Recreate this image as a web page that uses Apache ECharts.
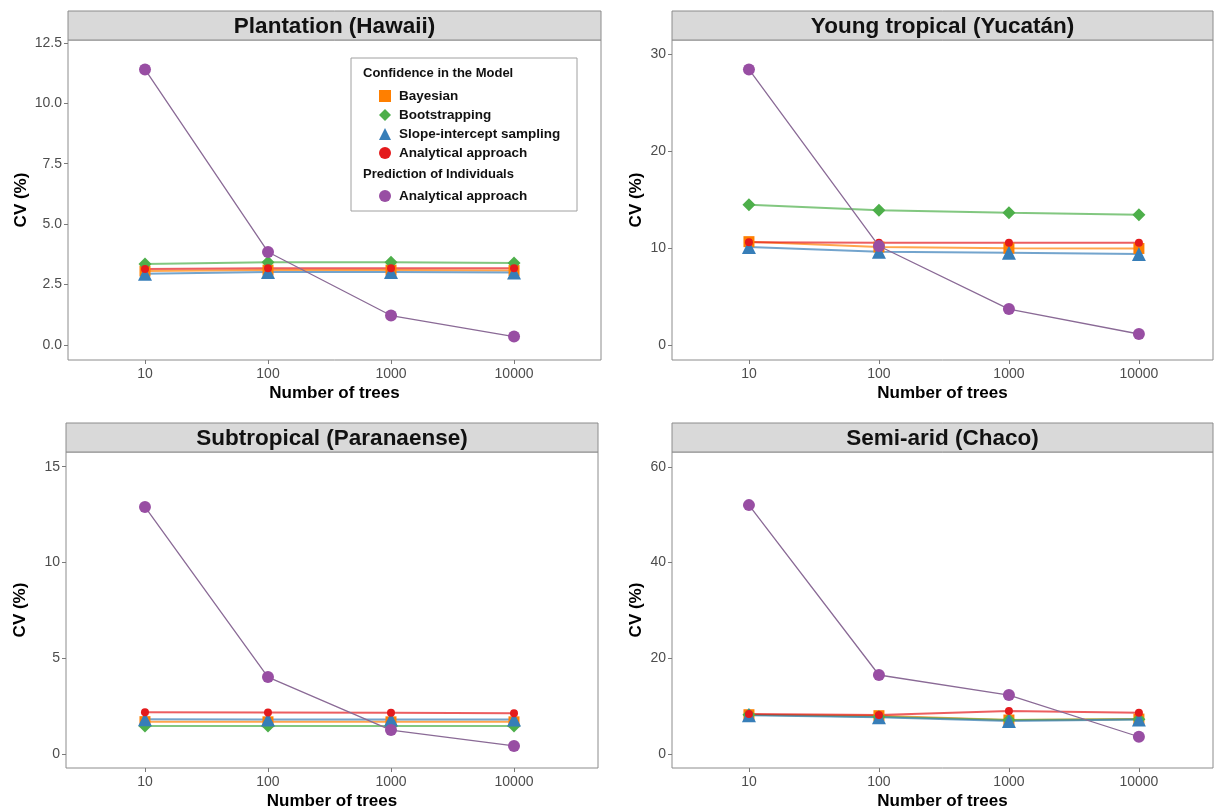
<!DOCTYPE html>
<html>
<head>
<meta charset="utf-8">
<script src="https://cdn.jsdelivr.net/npm/echarts@6/dist/echarts.min.js"></script>
<style>
  html, body { margin: 0; padding: 0; background: #fff; }
  #chart { width: 1215px; height: 812px; }
</style>
</head>
<body>
<div id="chart"></div>
<script>
// data
const trees = [10, 100, 1000, 10000]
const panelTitles = ['Plantation (Hawaii)', 'Young tropical (Yucatán)', 'Subtropical (Paranaense)', 'Semi-arid (Chaco)']

const bayesian = [
  [3.06, 3.10, 3.10, 3.08],
  [10.65, 10.1, 9.97, 9.95],
  [1.69, 1.68, 1.68, 1.68],
  [8.2, 8.0, 7.1, 7.3]
]
const bootstrapping = [
  [3.35, 3.42, 3.42, 3.39],
  [14.46, 13.9, 13.64, 13.43],
  [1.46, 1.46, 1.46, 1.46],
  [8.2, 7.8, 7.1, 7.25]
]
const slopeIntercept = [
  [2.95, 3.02, 3.02, 3.0],
  [10.1, 9.6, 9.5, 9.38],
  [1.81, 1.8, 1.8, 1.8],
  [8.1, 7.7, 6.9, 7.2]
]
const analyticalModel = [
  [3.14, 3.18, 3.18, 3.18],
  [10.6, 10.55, 10.55, 10.55],
  [2.18, 2.17, 2.15, 2.13],
  [8.36, 8.15, 9.0, 8.6]
]
const analyticalIndividuals = [
  [11.4, 3.85, 1.22, 0.35],
  [28.4, 10.2, 3.7, 1.13],
  [12.9, 4.02, 1.25, 0.42],
  [52.0, 16.5, 12.3, 3.6]
]

const yTicks = [
  [0, 2.5, 5, 7.5, 10, 12.5],
  [0, 10, 20, 30],
  [0, 5, 10, 15],
  [0, 20, 40, 60]
]
const yRange = [[-0.62, 12.62], [-1.55, 31.44], [-0.73, 15.77], [-2.93, 63.1]]
const xRange = [[0.374, 4.707], [0.408, 4.57], [0.358, 4.683], [0.408, 4.57]]

// layout of the four panels (plot area, px)
const panels = [
  { left: 68, top: 40, width: 533, height: 320, nameGap: 38 },
  { left: 672, top: 40, width: 541, height: 320, nameGap: 27 },
  { left: 66, top: 452, width: 532, height: 316, nameGap: 37 },
  { left: 672, top: 452, width: 541, height: 316, nameGap: 27 }
]
const stripH = 29

const FONT = '"Liberation Sans", Arial, sans-serif'
const colors = {
  bayes: '#ff7f00',
  boot: '#4daf4a',
  slope: '#377eb8',
  anal: '#e41a1c',
  indiv: '#984ea3'
}
const labelMap = {
  'Bayesian': 'Bayesian',
  'Bootstrapping': 'Bootstrapping',
  'Slope-intercept sampling': 'Slope-intercept sampling',
  'Analytical approach': 'Analytical approach',
  'Individuals analytical': 'Analytical approach'
}

const toPts = vals => trees.map((t, i) => [Math.log10(t), vals[i]])

const grid = panels.map(p => ({
  left: p.left, top: p.top, width: p.width, height: p.height,
  show: true, borderColor: '#8c8c8c', borderWidth: 1, backgroundColor: '#fff'
}))

const xAxis = panels.map((p, i) => ({
  type: 'value',
  gridIndex: i,
  min: xRange[i][0],
  max: xRange[i][1],
  name: 'Number of trees',
  nameLocation: 'middle',
  nameGap: 25,
  nameTextStyle: { fontFamily: FONT, fontWeight: 'bold', fontSize: 17, color: '#000' },
  axisLine: { show: false, onZero: false },
  splitLine: { show: false },
  axisTick: { show: true, length: 4, lineStyle: { color: '#7a7a7a' }, customValues: [1, 2, 3, 4] },
  axisLabel: {
    customValues: [1, 2, 3, 4],
    margin: 7,
    fontFamily: FONT, fontSize: 14, color: '#4d4d4d',
    formatter: v => String(Math.round(Math.pow(10, v)))
  }
}))

const yAxis = panels.map((p, i) => ({
  type: 'value',
  gridIndex: i,
  min: yRange[i][0],
  max: yRange[i][1],
  name: 'CV (%)',
  nameLocation: 'middle',
  nameGap: p.nameGap,
  nameTextStyle: { fontFamily: FONT, fontWeight: 'bold', fontSize: 17, color: '#000' },
  axisLine: { show: false, onZero: false },
  splitLine: { show: false },
  axisTick: { show: true, length: 4, lineStyle: { color: '#7a7a7a' }, customValues: yTicks[i] },
  axisLabel: {
    customValues: yTicks[i],
    margin: 6,
    fontFamily: FONT, fontSize: 14, color: '#4d4d4d',
    formatter: v => i === 0 ? v.toFixed(1) : String(v)
  }
}))

const series = []
panels.forEach((p, i) => {
  const base = { type: 'line', xAxisIndex: i, yAxisIndex: i, animation: false, z: 2 }
  series.push({ ...base, name: 'Bayesian', data: toPts(bayesian[i]), symbol: 'rect', symbolSize: 11,
    itemStyle: { color: colors.bayes }, lineStyle: { color: colors.bayes, width: 2, opacity: 0.7 } })
  series.push({ ...base, name: 'Bootstrapping', data: toPts(bootstrapping[i]), symbol: 'diamond', symbolSize: 13,
    itemStyle: { color: colors.boot }, lineStyle: { color: colors.boot, width: 2, opacity: 0.7 } })
  series.push({ ...base, name: 'Slope-intercept sampling', data: toPts(slopeIntercept[i]), symbol: 'triangle', symbolSize: 14,
    itemStyle: { color: colors.slope }, lineStyle: { color: colors.slope, width: 2, opacity: 0.7 } })
  series.push({ ...base, name: 'Analytical approach', data: toPts(analyticalModel[i]), symbol: 'circle', symbolSize: 8,
    itemStyle: { color: colors.anal }, lineStyle: { color: colors.anal, width: 2, opacity: 0.7 } })
  series.push({ ...base, name: 'Individuals analytical', data: toPts(analyticalIndividuals[i]), symbol: 'circle', symbolSize: 12,
    itemStyle: { color: colors.indiv }, lineStyle: { color: '#8a6a96', width: 1.3 }, z: 3 })
})

// facet strips
const graphic = []
panels.forEach((p, i) => {
  graphic.push({
    type: 'rect', silent: true,
    shape: { x: p.left, y: p.top - stripH, width: p.width, height: stripH },
    style: { fill: '#d9d9d9', stroke: '#8c8c8c', lineWidth: 1 }
  })
  graphic.push({
    type: 'text', silent: true,
    x: p.left + p.width / 2, y: p.top - stripH / 2 + 1,
    style: { text: panelTitles[i], fontFamily: FONT, fontWeight: 'bold', fontSize: 22.5, fill: '#111', align: 'center', verticalAlign: 'middle' }
  })
})
// legend box and headings
graphic.push({
  type: 'rect', silent: true, z: 10,
  shape: { x: 351, y: 58, width: 226, height: 153 },
  style: { fill: '#fff', stroke: '#a0a0a0', lineWidth: 1 }
})
graphic.push({
  type: 'text', silent: true, z: 11, x: 363, y: 73,
  style: { text: 'Confidence in the Model', fontFamily: FONT, fontWeight: 'bold', fontSize: 13, fill: '#111', verticalAlign: 'middle' }
})
graphic.push({
  type: 'text', silent: true, z: 11, x: 363, y: 174,
  style: { text: 'Prediction of Individuals', fontFamily: FONT, fontWeight: 'bold', fontSize: 13, fill: '#111', verticalAlign: 'middle' }
})

const legendText = { fontFamily: FONT, fontWeight: 'bold', fontSize: 13.5, color: '#111', padding: [0, 0, 0, 3] }
const option = {
  backgroundColor: '#fff',
  animation: false,
  grid, xAxis, yAxis, series, graphic,
  legend: [
    {
      orient: 'vertical', left: 374, top: 84, itemGap: 5, itemWidth: 12, itemHeight: 12,
      selectedMode: false, z: 12, textStyle: legendText,
      formatter: n => labelMap[n],
      data: [
        { name: 'Bayesian', icon: 'rect' },
        { name: 'Bootstrapping', icon: 'diamond' },
        { name: 'Slope-intercept sampling', icon: 'triangle' },
        { name: 'Analytical approach', icon: 'circle', itemStyle: { color: colors.anal } }
      ]
    },
    {
      orient: 'vertical', left: 374, top: 184, itemWidth: 12, itemHeight: 12,
      selectedMode: false, z: 12, textStyle: legendText,
      formatter: n => labelMap[n],
      data: [{ name: 'Individuals analytical', icon: 'circle' }]
    }
  ]
}

const chart = echarts.init(document.getElementById('chart'), null, { renderer: 'canvas' })
chart.setOption(option)
</script>
</body>
</html>
